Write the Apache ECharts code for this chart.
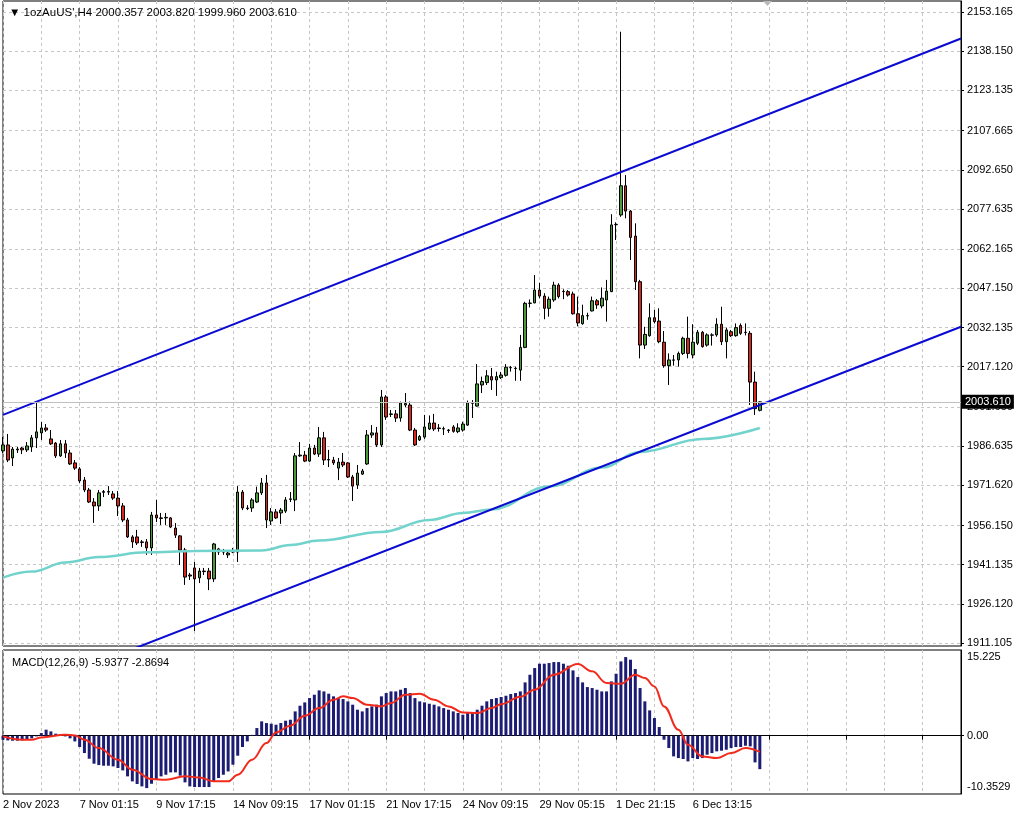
<!DOCTYPE html>
<html><head><meta charset="utf-8">
<script src="https://cdn.jsdelivr.net/npm/echarts@6/dist/echarts.min.js"></script>
<style>html,body{margin:0;padding:0;background:#fff}#c{width:1024px;height:820px}</style>
</head><body><div id="c"></div>
<script>
// ---------- data ----------
const xTickLabels = ['2 Nov 2023','7 Nov 01:15','9 Nov 17:15','14 Nov 09:15','17 Nov 01:15','21 Nov 17:15','24 Nov 09:15','29 Nov 05:15','1 Dec 21:15','6 Dec 13:15'];
const yTickLabels = ['2153.165','2138.150','2123.135','2107.665','2092.650','2077.635','2062.165','2047.150','2032.135','2017.120','2001.650','1986.635','1971.620','1956.150','1941.135','1926.120','1911.105'];
const macdTickLabels = ['15.225','0.00','-10.3529'];

const opens = [
1984.8,1987.1,1982.1,1985.2,1985.9,1985.2,1986.3,1989.8,1991.7,1993.6,
1989.4,1987.8,1982.9,1987.5,1984.0,1980.2,1977.9,1973.6,1969.8,1965.2,
1963.7,1968.9,1969.0,1968.3,1966.7,1963.7,1958.3,1951.8,1951.8,1949.9,
1949.9,1947.6,1960.2,1959.1,1959.1,1959.1,1955.2,1952.2,1946.8,1937.2,
1939.9,1936.1,1938.7,1938.7,1935.7,1946.0,1946.0,1944.9,1946.0,1946.0,
1969.0,1962.9,1962.9,1965.2,1968.7,1972.5,1957.9,1961.4,1961.0,1961.7,
1966.2,1966.0,1982.9,1983.2,1980.9,1985.9,1983.6,1989.8,1981.3,1981.3,
1978.2,1980.5,1980.2,1974.8,1971.7,1975.9,1979.8,1990.9,1991.7,1987.1,
2005.5,1998.8,1999.0,1997.4,2002.4,2002.4,1992.8,1989.0,1990.1,1993.2,
1995.5,1993.6,1993.2,1992.6,1994.0,1992.2,1992.8,1994.7,2003.1,2002.0,
2010.1,2011.0,2013.3,2012.0,2012.9,2013.8,2016.7,2016.4,2015.8,2024.5,
2041.4,2041.6,2046.5,2044.2,2039.5,2042.7,2048.4,2045.9,2045.9,2045.0,
2037.4,2033.6,2036.6,2038.5,2042.4,2040.4,2042.7,2045.9,2071.6,2075.3,
2086.5,2076.8,2067.2,2049.7,2025.4,2029.0,2035.9,2034.6,2026.5,2017.5,
2019.6,2019.7,2022.2,2028.0,2021.6,2026.1,2030.3,2025.4,2029.2,2029.3,
2033.4,2026.7,2030.5,2029.0,2032.9,2030.3,2029.9,2011.2,2000.357];
const closes = [
1987.1,1981.3,1985.5,1985.5,1985.2,1986.7,1989.8,1992.1,1993.6,1992.8,
1987.5,1982.9,1987.5,1984.0,1979.8,1978.2,1973.3,1969.8,1965.2,1963.7,
1968.7,1969.2,1969.2,1966.7,1963.7,1958.3,1951.8,1949.9,1949.5,1949.7,
1947.6,1960.2,1959.1,1958.9,1959.3,1955.6,1952.5,1946.8,1936.4,1936.8,
1935.7,1938.7,1938.5,1935.7,1949.1,1947.2,1946.1,1945.6,1946.4,1969.0,
1962.9,1962.7,1966.0,1968.7,1972.5,1958.3,1961.4,1959.1,1962.1,1966.0,
1966.4,1982.9,1983.2,1980.9,1985.9,1983.6,1989.8,1981.3,1981.5,1980.2,
1980.5,1979.4,1974.8,1971.3,1976.3,1977.1,1990.9,1991.7,1987.1,2005.5,
1997.8,1999.0,1997.4,2003.2,2003.0,1992.8,1987.1,1990.3,1994.0,1995.5,
1993.2,1993.4,1993.3,1992.8,1992.3,1993.6,1995.1,2003.3,2003.2,2010.5,
2011.4,2013.6,2012.0,2013.3,2013.9,2016.9,2016.8,2016.5,2024.5,2041.4,
2041.5,2046.5,2044.2,2039.5,2043.0,2048.4,2044.0,2046.0,2044.6,2037.4,
2033.9,2036.7,2036.7,2042.4,2040.8,2043.4,2046.1,2071.5,2071.7,2086.5,
2076.8,2066.7,2049.7,2025.4,2029.5,2035.9,2034.4,2026.7,2017.5,2019.7,
2019.7,2022.2,2028.0,2022.2,2026.5,2030.3,2024.8,2029.3,2029.3,2033.4,
2026.7,2031.2,2029.0,2032.1,2029.9,2030.2,2011.2,2001.0,2003.610];
const lows = [
1984.0,1980.5,1979.0,1984.0,1983.6,1984.4,1984.4,1985.9,1989.0,1992.1,
1987.1,1982.1,1982.5,1982.1,1979.4,1977.5,1972.5,1969.0,1964.8,1957.2,
1961.8,1967.1,1967.9,1966.0,1959.8,1957.5,1951.4,1947.6,1948.7,1948.0,
1944.9,1944.9,1957.5,1956.4,1956.4,1955.2,1951.4,1941.0,1933.4,1935.3,
1915.7,1934.1,1937.2,1931.4,1934.5,1944.9,1944.9,1943.7,1945.6,1942.2,
1962.1,1962.1,1961.4,1964.8,1967.9,1955.2,1956.4,1958.7,1956.8,1961.0,
1965.2,1961.7,1982.5,1980.5,1980.5,1983.2,1982.5,1979.4,1978.6,1979.4,
1973.6,1978.6,1974.4,1965.6,1970.2,1975.6,1979.4,1989.8,1986.3,1986.3,
1996.7,1997.8,1995.9,1996.0,2001.6,1992.4,1986.7,1988.6,1989.4,1992.8,
1992.4,1992.2,1990.9,1991.7,1991.8,1991.6,1992.2,1994.4,1997.4,2001.8,
2007.0,2010.1,2008.2,2005.9,2012.4,2013.3,2015.2,2011.7,2011.7,2024.2,
2039.8,2041.4,2043.3,2035.3,2036.3,2042.0,2043.3,2043.0,2044.0,2037.1,
2032.6,2033.2,2035.1,2038.3,2039.3,2039.5,2034.4,2045.7,2065.7,2074.6,
2074.0,2058.0,2046.5,2020.3,2023.9,2028.6,2033.7,2026.1,2016.7,2010.1,
2017.5,2017.1,2021.6,2020.3,2020.3,2025.4,2024.4,2024.8,2025.2,2028.6,
2025.4,2020.3,2028.5,2028.6,2029.3,2029.1,2002.4,1998.6,1999.960];
const highs = [
1990.1,1991.3,1986.3,1986.3,1986.3,1988.2,1990.9,2003.9,1995.9,1995.1,
1992.8,1988.2,1989.0,1989.0,1985.2,1981.3,1978.6,1974.8,1970.6,1966.7,
1969.8,1969.8,1971.3,1969.4,1969.4,1964.8,1959.1,1952.5,1954.5,1950.6,
1951.0,1961.4,1966.0,1961.0,1961.0,1959.4,1957.1,1952.5,1947.6,1938.0,
1942.2,1939.9,1939.9,1939.9,1949.5,1947.6,1947.2,1946.4,1947.6,1971.3,
1969.8,1964.0,1966.7,1971.1,1974.4,1975.6,1962.9,1962.5,1962.9,1967.1,
1969.0,1984.0,1988.2,1984.8,1987.5,1987.1,1994.0,1992.1,1985.2,1982.5,
1982.1,1984.0,1980.5,1975.6,1979.4,1977.9,1992.8,1994.7,1994.0,2008.2,
2006.2,2000.5,2000.5,2003.7,2007.0,2003.7,1993.6,1990.9,1998.6,1998.4,
1999.0,1995.1,1994.1,1993.2,1994.7,1995.4,1996.0,2004.1,2004.3,2018.1,
2013.3,2015.8,2016.6,2015.2,2015.1,2018.1,2017.4,2017.1,2029.3,2042.0,
2042.9,2052.3,2049.3,2045.3,2044.0,2049.7,2049.1,2046.8,2046.5,2045.9,
2044.0,2040.9,2037.8,2044.0,2043.1,2047.5,2050.4,2075.6,2072.5,2145.6,
2090.6,2077.2,2072.1,2050.4,2032.4,2041.4,2038.9,2039.5,2030.8,2022.2,
2021.6,2022.9,2028.6,2036.3,2033.4,2031.2,2030.8,2029.9,2029.9,2035.7,
2040.1,2032.1,2031.2,2033.7,2033.7,2033.7,2030.8,2015.2,2003.820];

// moving average (cyan) read at selected bars: [bar index, price]
const maPoints = [[0,1936.2],[6,1938.5],[13,1942.0],[20,1944.1],[30,1945.9],[40,1946.4],[54,1946.6],[60,1948.7],[66,1950.4],[79,1953.7],[89,1958.3],[96,1961.0],[102,1962.3],[114,1971.1],[125,1978.4],[133,1984.4],[146,1989.4],[158,1993.6]];
// channel trend lines: [bar slot, price]
const upperChannel = [[0,1998.6],[200,2143.0]];
const lowerChannel = [[0,1889.4],[200,2032.45]];

const macdHist = [
-0.71,-0.83,-0.89,-0.89,-0.83,-0.71,-0.47,-0.12,0.47,1.07,
0.77,0.36,0.12,-0.12,-0.47,-1.01,-2.01,-3.08,-4.09,-4.97,
-5.21,-5.33,-5.33,-5.45,-5.74,-6.16,-7.22,-8.11,-8.58,-9.0,
-9.3,-8.53,-7.70,-7.22,-6.93,-6.51,-6.51,-7.10,-8.29,-9.0,
-9.12,-9.12,-9.12,-9.12,-8.11,-7.52,-6.93,-6.34,-5.15,-3.55,
-2.01,-1.01,0.15,1.36,2.55,2.25,2.13,1.95,2.25,2.66,
2.84,4.32,5.33,5.92,6.69,7.28,8.05,7.87,7.46,6.99,
6.69,6.51,6.10,5.51,4.62,4.32,4.91,5.21,5.51,6.99,
7.58,7.87,7.87,8.17,8.47,7.58,6.69,6.10,5.92,5.68,
5.51,5.21,4.91,4.62,4.32,4.03,3.73,4.03,4.14,4.62,
5.33,6.10,6.51,6.69,6.87,7.10,7.40,7.58,7.87,9.47,
10.83,12.02,12.79,12.79,12.91,13.08,13.08,12.79,12.43,11.60,
10.42,9.47,8.64,8.47,8.17,7.87,7.87,9.65,11.01,13.20,
13.97,13.50,11.84,8.47,6.10,4.50,3.14,1.54,-0.71,-2.19,
-3.67,-3.97,-4.14,-4.56,-3.97,-4.14,-3.97,-3.37,-3.08,-2.78,
-2.66,-2.49,-2.19,-2.01,-2.01,-1.78,-1.89,-4.74,-5.9377];
// MACD signal line read at selected bars: [bar index, value]
const macdSignal = [[0,-0.12],[4,-0.71],[6,-0.71],[8,-0.30],[13,0.18],[15,0.06],[17,-0.71],[20,-2.19],[24,-4.26],[27,-6.04],[31,-7.70],[34,-7.82],[38,-7.22],[41,-7.40],[44,-8.11],[47,-8.11],[49,-6.93],[52,-4.26],[55,-1.30],[57,0.59],[60,1.78],[63,3.55],[66,4.91],[69,6.39],[71,6.99],[73,6.69],[76,5.51],[79,5.21],[81,5.80],[84,7.28],[87,7.46],[90,6.39],[93,5.21],[96,4.14],[99,4.03],[102,4.91],[104,5.6],[108,6.9],[111,8.17],[115,10.83],[120,12.73],[123,11.43],[126,9.35],[129,9.24],[132,10.83],[134,10.24],[136,8.76],[138,5.21],[141,1.07],[143,-1.60],[146,-3.67],[149,-3.97],[152,-3.08],[155,-2.19],[158,-2.8694]];

const titleText = "\u25BC 1ozAuUS',H4 2000.357 2003.820 1999.960 2003.610";
const macdTitle = 'MACD(12,26,9) -5.9377 -2.8694';
const lastPrice = 2003.610;

// ---------- build ----------
const slotCount = 201;
const categories = [];
for (let i = 0; i < slotCount; i++) categories.push(i % 16 === 0 && xTickLabels[i / 16] ? xTickLabels[i / 16] : '');
const candleData = opens.map((o, i) => [o, closes[i], lows[i], highs[i]]);
const yTicks = yTickLabels.map(Number);
const macdMax = Number(macdTickLabels[0]), macdMin = Number(macdTickLabels[2]);

const FONT = "'Liberation Sans', Arial, sans-serif";
const gridLine = { show: true, lineStyle: { color: '#c6c6c6', type: [3, 3], width: 1 } };

const chart = echarts.init(document.getElementById('c'), null, { renderer: 'canvas' });
chart.setOption({
  animation: false,
  backgroundColor: '#ffffff',
  textStyle: { fontFamily: FONT },
  title: [
    { text: titleText, left: 4, top: 2, textStyle: { fontSize: 11.5, fontWeight: 'normal', color: '#000', fontFamily: FONT } },
    { text: macdTitle, left: 7, top: 652, textStyle: { fontSize: 11, fontWeight: 'normal', color: '#000', fontFamily: FONT } }
  ],
  grid: [
    { left: 3, right: 63, top: 1, height: 645, show: true, borderColor: '#000', borderWidth: 1, backgroundColor: 'transparent' },
    { left: 3, right: 63, top: 650, height: 144, show: true, borderColor: '#000', borderWidth: 1, backgroundColor: 'transparent' }
  ],
  xAxis: [
    { type: 'category', gridIndex: 0, data: categories, boundaryGap: false,
      axisLine: { show: false }, axisTick: { show: false }, axisLabel: { show: false },
      splitLine: Object.assign({ interval: 7 }, gridLine) },
    { type: 'category', gridIndex: 1, data: categories, boundaryGap: false,
      axisLine: { show: true, lineStyle: { color: '#000' } },
      axisTick: { show: true, interval: 15, length: 4, lineStyle: { color: '#000' } },
      axisLabel: { show: true, interval: 15, align: 'left', margin: 5, fontSize: 11, color: '#000', fontFamily: FONT },
      splitLine: Object.assign({ interval: 7 }, gridLine) }
  ],
  yAxis: [
    { type: 'value', gridIndex: 0, position: 'right', min: 1909.96, max: 2157.39,
      axisLine: { show: true, lineStyle: { color: '#000' } },
      axisTick: { show: true, length: 3, customValues: yTicks, lineStyle: { color: '#000' } },
      axisLabel: { show: true, customValues: yTicks, margin: 6, fontSize: 11, color: '#000', fontFamily: FONT,
        formatter: v => yTickLabels[yTicks.indexOf(v)] || v.toFixed(3) },
      splitLine: gridLine },
    { type: 'value', gridIndex: 1, position: 'right', min: macdMin, max: macdMax,
      axisLine: { show: true, lineStyle: { color: '#000' } },
      axisTick: { show: true, length: 3, customValues: [0], lineStyle: { color: '#000' } },
      axisLabel: { show: true, customValues: [macdMax, 0, macdMin], margin: 6, fontSize: 11, color: '#000', fontFamily: FONT,
        formatter: v => v === macdMax ? '{t|' + macdTickLabels[0] + '}' : (v === macdMin ? '{b|' + macdTickLabels[2] + '}' : macdTickLabels[1]),
        rich: { t: { fontSize: 11, fontFamily: FONT, color: '#000', padding: [14, 0, 0, 0] },
                b: { fontSize: 11, fontFamily: FONT, color: '#000', padding: [0, 0, 14, 0] } } },
      splitLine: gridLine }
  ],
  series: [
    { type: 'candlestick', xAxisIndex: 0, yAxisIndex: 0, data: candleData, barWidth: 3,
      itemStyle: { color: '#4a9a3a', color0: '#d8281c', borderColor: '#000', borderColor0: '#000', borderWidth: 1 },
      markLine: { silent: true, symbol: 'none', animation: false,
        lineStyle: { color: '#c0c0c0', type: 'solid', width: 1 },
        label: { show: true, position: 'end', distance: 1, formatter: lastPrice.toFixed(3), backgroundColor: '#000', color: '#fff',
          padding: [2, 3, 1, 3], fontSize: 11, fontFamily: FONT },
        data: [{ yAxis: lastPrice }] } },
    { type: 'line', xAxisIndex: 0, yAxisIndex: 0, data: maPoints, showSymbol: false, symbol: 'none', smooth: 0.4,
      smoothMonotone: 'x', lineStyle: { color: '#72d3cc', width: 2.5 }, z: 3 },
    { type: 'line', xAxisIndex: 0, yAxisIndex: 0, data: upperChannel, showSymbol: false, symbol: 'none', clip: true,
      lineStyle: { color: '#0a0ad2', width: 2 }, z: 4 },
    { type: 'line', xAxisIndex: 0, yAxisIndex: 0, data: lowerChannel, showSymbol: false, symbol: 'none', clip: true,
      lineStyle: { color: '#0a0ad2', width: 2 }, z: 4 },
    { type: 'bar', xAxisIndex: 1, yAxisIndex: 1, data: macdHist, barWidth: 3, itemStyle: { color: '#1c1c74' } },
    { type: 'line', xAxisIndex: 1, yAxisIndex: 1, data: macdSignal, showSymbol: false, symbol: 'none', smooth: 0.4,
      smoothMonotone: 'x', lineStyle: { color: '#f22a1c', width: 2 }, z: 4 }
  ],
  graphic: [
    { type: 'polygon', shape: { points: [[763, 1], [772, 1], [767.5, 6]] }, style: { fill: '#b8b8b8' }, silent: true }
  ]
});
</script>
</body></html>
